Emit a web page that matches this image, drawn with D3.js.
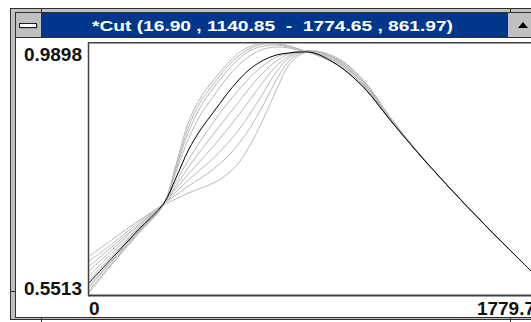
<!DOCTYPE html>
<html>
<head>
<meta charset="utf-8">
<script src="https://cdn.jsdelivr.net/npm/d3@7"></script>
<style>
  body { margin: 0; background: #fff; }
  text { font-family: "Liberation Sans", Arial, sans-serif; font-weight: bold; }
</style>
</head>
<body>
<div id="chart"></div>
<script>
// sample positions along the cut
var xs = [0, 100, 200, 300, 350, 400, 450, 500, 550, 600, 650, 700, 750, 800, 850, 900, 1000, 1100, 1200, 1300, 1400, 1500, 1600, 1700, 1779.7];

// the current profile (black)
var cutMain = [0.5705, 0.6175, 0.6644, 0.7097, 0.7549, 0.8036, 0.8402, 0.8697, 0.8993, 0.9254, 0.9463, 0.9602, 0.9689, 0.9724, 0.9741, 0.9724, 0.9498, 0.9115, 0.8576, 0.8054, 0.7566, 0.7097, 0.6644, 0.6209, 0.5861];

// earlier profiles (grey), fastest rise first
var cut1  = [0.5531, 0.6070, 0.6575, 0.7079, 0.7775, 0.8523, 0.8958, 0.9254, 0.9515, 0.9724, 0.9846, 0.9898, 0.9898, 0.9846, 0.9776, 0.9707, 0.9498, 0.9115, 0.8576, 0.8054, 0.7566, 0.7097, 0.6644, 0.6209, 0.5861];
var cut2  = [0.5565, 0.6088, 0.6592, 0.7079, 0.7740, 0.8436, 0.8889, 0.9185, 0.9463, 0.9672, 0.9811, 0.9881, 0.9881, 0.9846, 0.9776, 0.9707, 0.9498, 0.9115, 0.8576, 0.8054, 0.7566, 0.7097, 0.6644, 0.6209, 0.5861];
var cut3  = [0.5618, 0.6122, 0.6609, 0.7079, 0.7706, 0.8349, 0.8802, 0.9115, 0.9393, 0.9620, 0.9776, 0.9846, 0.9863, 0.9828, 0.9776, 0.9707, 0.9498, 0.9115, 0.8576, 0.8054, 0.7566, 0.7097, 0.6644, 0.6209, 0.5861];
var cut4  = [0.5652, 0.6140, 0.6627, 0.7079, 0.7653, 0.8228, 0.8663, 0.8976, 0.9272, 0.9515, 0.9689, 0.9794, 0.9828, 0.9811, 0.9759, 0.9707, 0.9498, 0.9115, 0.8576, 0.8054, 0.7566, 0.7097, 0.6644, 0.6209, 0.5861];
var cut5  = [0.5757, 0.6209, 0.6662, 0.7097, 0.7479, 0.7862, 0.8210, 0.8523, 0.8819, 0.9080, 0.9324, 0.9515, 0.9654, 0.9724, 0.9759, 0.9741, 0.9533, 0.9150, 0.8576, 0.8054, 0.7566, 0.7097, 0.6644, 0.6209, 0.5861];
var cut6  = [0.5826, 0.6262, 0.6679, 0.7097, 0.7410, 0.7740, 0.8036, 0.8315, 0.8593, 0.8871, 0.9150, 0.9393, 0.9585, 0.9707, 0.9759, 0.9741, 0.9550, 0.9167, 0.8593, 0.8054, 0.7566, 0.7097, 0.6644, 0.6209, 0.5861];
var cut7  = [0.5913, 0.6314, 0.6714, 0.7097, 0.7358, 0.7619, 0.7862, 0.8106, 0.8367, 0.8645, 0.8941, 0.9237, 0.9498, 0.9672, 0.9759, 0.9759, 0.9567, 0.9185, 0.8593, 0.8054, 0.7566, 0.7097, 0.6644, 0.6209, 0.5861];
var cut8  = [0.6000, 0.6366, 0.6731, 0.7097, 0.7305, 0.7514, 0.7706, 0.7897, 0.8123, 0.8384, 0.8697, 0.9045, 0.9393, 0.9637, 0.9741, 0.9759, 0.9585, 0.9202, 0.8610, 0.8071, 0.7566, 0.7097, 0.6644, 0.6209, 0.5861];
var cut9  = [0.6088, 0.6418, 0.6766, 0.7097, 0.7253, 0.7410, 0.7549, 0.7706, 0.7897, 0.8141, 0.8454, 0.8837, 0.9254, 0.9585, 0.9724, 0.9759, 0.9602, 0.9219, 0.8610, 0.8071, 0.7566, 0.7097, 0.6644, 0.6209, 0.5861];
var cut10 = [0.6175, 0.6488, 0.6801, 0.7079, 0.7184, 0.7288, 0.7375, 0.7462, 0.7601, 0.7810, 0.8158, 0.8593, 0.9080, 0.9515, 0.9707, 0.9759, 0.9620, 0.9237, 0.8628, 0.8071, 0.7566, 0.7097, 0.6644, 0.6209, 0.5861];

var yLabels = [0.5513, 0.9898];
var xLabels = [0, 1779.7];
var title = "*Cut (16.90 , 1140.85  -  1774.65 , 861.97)";

var greyCuts = [cut1, cut2, cut3, cut4, cut5, cut6, cut7, cut8, cut9, cut10];

var W = 531, H = 322;
var plot = {left: 88, top: 43, right: 535, bottom: 295};

var svg = d3.select("#chart").append("svg")
  .attr("width", W)
  .attr("height", H);

svg.append("rect").attr("width", W).attr("height", H).attr("fill", "#fff");

// window frame
svg.append("rect")
  .attr("x", 10.5).attr("y", 8.5)
  .attr("width", 540).attr("height", 311)
  .attr("fill", "#c0c0c0")
  .attr("stroke", "#303030");

svg.append("rect")
  .attr("x", 15.5).attr("y", 12.5)
  .attr("width", 540).attr("height", 305)
  .attr("fill", "#fff")
  .attr("stroke", "#303030");

// title bar
svg.append("rect")
  .attr("x", 16).attr("y", 13)
  .attr("width", 530).attr("height", 24)
  .attr("fill", "#00378a");

svg.append("line")
  .attr("x1", 16).attr("x2", W).attr("y1", 37.5).attr("y2", 37.5)
  .attr("stroke", "#303030");

// system menu box
svg.append("rect")
  .attr("x", 16).attr("y", 13).attr("width", 25).attr("height", 24)
  .attr("fill", "#c0c0c0");
svg.append("line")
  .attr("x1", 41.5).attr("x2", 41.5).attr("y1", 8).attr("y2", 37)
  .attr("stroke", "#303030");
svg.append("rect")
  .attr("x", 20.5).attr("y", 24.5).attr("width", 17).attr("height", 4)
  .attr("fill", "#808080");
svg.append("rect")
  .attr("x", 19.5).attr("y", 23.5).attr("width", 17).attr("height", 4)
  .attr("fill", "#fff").attr("stroke", "#202020");

// maximize button
svg.append("rect")
  .attr("x", 508).attr("y", 13).attr("width", 30).attr("height", 24)
  .attr("fill", "#c0c0c0");
svg.append("line")
  .attr("x1", 507.5).attr("x2", 507.5).attr("y1", 13).attr("y2", 37)
  .attr("stroke", "#303030");
svg.append("path")
  .attr("d", "M518,28L528,28L523,22Z")
  .attr("fill", "#000");

// frame corner notches
svg.append("line").attr("x1", 10).attr("x2", 15).attr("y1", 291.5).attr("y2", 291.5).attr("stroke", "#303030");
svg.append("line").attr("x1", 41.5).attr("x2", 41.5).attr("y1", 317).attr("y2", 322).attr("stroke", "#303030");
svg.append("line").attr("x1", 510.5).attr("x2", 510.5).attr("y1", 8).attr("y2", 13).attr("stroke", "#303030");
svg.append("line").attr("x1", 510.5).attr("x2", 510.5).attr("y1", 317).attr("y2", 322).attr("stroke", "#303030");

svg.append("text")
  .attr("x", 272.5).attr("y", 31)
  .attr("text-anchor", "middle")
  .attr("fill", "#fff")
  .attr("font-size", 15)
  .attr("textLength", 361)
  .attr("lengthAdjust", "spacingAndGlyphs")
  .style("white-space", "pre")
  .text(title);

// scales
var x = d3.scaleLinear().domain([0, 1779.7]).range([plot.left, plot.right]);
var y = d3.scaleLinear().domain([0.5513, 0.9898]).range([plot.bottom, plot.top]);

var line = d3.line()
  .x(function(d) { return x(d[0]); })
  .y(function(d) { return y(d[1]); })
  .curve(d3.curveCatmullRom.alpha(0.5));

function pts(arr) { return xs.map(function(v, i) { return [v, arr[i]]; }); }

svg.append("defs").append("clipPath").attr("id", "clip")
  .append("rect")
  .attr("x", plot.left).attr("y", plot.top - 2)
  .attr("width", plot.right - plot.left).attr("height", plot.bottom - plot.top + 2);

var g = svg.append("g").attr("clip-path", "url(#clip)");

g.selectAll(".grey")
  .data(greyCuts)
  .enter().append("path")
  .attr("class", "grey")
  .attr("d", function(d) { return line(pts(d)); })
  .attr("fill", "none")
  .attr("stroke", "#b8b8b8")
  .attr("stroke-width", 1);

g.append("path")
  .attr("d", line(pts(cutMain)))
  .attr("fill", "none")
  .attr("stroke", "#000")
  .attr("stroke-width", 1);

// plot frame
svg.append("line")
  .attr("x1", plot.left).attr("x2", W).attr("y1", plot.top - 0.5).attr("y2", plot.top - 0.5)
  .attr("stroke", "#404040");
svg.append("line")
  .attr("x1", plot.left).attr("x2", W).attr("y1", plot.top + 0.5).attr("y2", plot.top + 0.5)
  .attr("stroke", "#a0a0a0");
svg.append("line")
  .attr("x1", plot.left + 0.5).attr("x2", plot.left + 0.5).attr("y1", plot.top - 1).attr("y2", plot.bottom + 1)
  .attr("stroke", "#404040").attr("stroke-width", 1.5);
svg.append("line")
  .attr("x1", plot.left).attr("x2", W).attr("y1", plot.bottom + 0.5).attr("y2", plot.bottom + 0.5)
  .attr("stroke", "#404040").attr("stroke-width", 2);

// corner labels
svg.selectAll(".ylab")
  .data(yLabels)
  .enter().append("text")
  .attr("class", "ylab")
  .attr("x", plot.left - 6)
  .attr("y", function(d, i) { return i === 0 ? y(d) : y(d) + 18; })
  .attr("text-anchor", "end")
  .attr("font-size", 19)
  .attr("fill", "#111")
  .text(function(d) { return d3.format(".4f")(d); });

svg.selectAll(".xlab")
  .data(xLabels)
  .enter().append("text")
  .attr("class", "xlab")
  .attr("x", function(d, i) { return i === 0 ? x(d) + 1 : x(d); })
  .attr("y", plot.bottom + 20)
  .attr("text-anchor", function(d, i) { return i === 0 ? "start" : "end"; })
  .attr("font-size", 19)
  .attr("fill", "#111")
  .text(function(d) { return d; });
</script>
</body>
</html>
